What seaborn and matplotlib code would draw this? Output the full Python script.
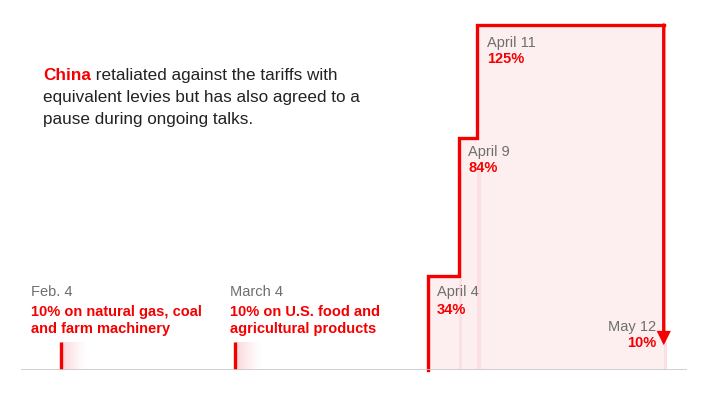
import matplotlib
matplotlib.use("Agg")
import matplotlib.pyplot as plt
import matplotlib.dates as mdates
import numpy as np
import pandas as pd
import seaborn as sns

# ---- data ----
step_dates = ["2025-04-04", "2025-04-04", "2025-04-09", "2025-04-12", "2025-05-12"]
step_values = [0, 34, 84, 125, 125]
final_date = "2025-05-12"
final_value = 10
early_dates = ["2025-02-04", "2025-03-04"]
early_values = [10, 10]
early_labels = ["Feb. 4", "March 4"]
early_notes = ["10% on natural gas, coal\nand farm machinery",
               "10% on U.S. food and\nagricultural products"]
step_labels = ["April 4", "April 9", "April 11", "May 12"]
step_notes = ["34%", "84%", "125%", "10%"]

RED = "#f40000"
PINK = "#fdeff0"
GRAY = "#6e6e6e"
DARK = "#222222"

sns.set_theme(style="white")
plt.rcParams["font.family"] = ["Liberation Sans", "DejaVu Sans"]

W, H = 706, 402
fig = plt.figure(figsize=(W / 100, H / 100), dpi=100)
ax = fig.add_axes([21 / W, 31 / H, 666 / W, 345 / H])

def dn(s):
    return mdates.date2num(pd.Timestamp(s))

feb4 = dn(early_dates[0])
ppd = 6.214
ax.set_xlim(feb4 - 40 / ppd, feb4 + (687 - 61) / ppd)
ax.set_ylim(0, 125)

sx = np.array([dn(d) for d in step_dates])
sy = np.array(step_values, dtype=float)

# pink area under the step
ax.fill_between(sx, sy, step="post", color=PINK, lw=0, zorder=1)

# faint stripes at each step start
for d, top in [(step_dates[2], 72), (step_dates[3], 72), (final_date, final_value)]:
    x0 = dn(d)
    ax.fill_between([x0, x0 + 0.6], [top, top], color="#fbdfe2", lw=0, zorder=1.5)

# early gradient blocks and ticks
for d, v in zip(early_dates, early_values):
    x0 = dn(d)
    n = 20
    span = 4.2
    for i in range(n):
        a = (1 - i / n) ** 1.3
        ax.fill_between([x0 + span * i / n, x0 + span * (i + 1) / n], [v, v],
                        color="#fbd6da", alpha=a, lw=0, zorder=1)
    ax.plot([x0, x0], [0, v], color=RED, lw=2.4, solid_capstyle="butt", zorder=3)

# step line
df = pd.DataFrame({"date": sx, "value": sy})
sns.lineplot(data=df, x="date", y="value", ax=ax, estimator=None, sort=False,
             drawstyle="steps-post", color=RED, lw=2.4, zorder=4)
ln = ax.lines[-1]
ln.set_solid_joinstyle("miter")
ln.set_solid_capstyle("projecting")
ln.set_clip_on(False)

# arrow down to final value
xf = dn(final_date)
ax.annotate("", xy=(xf, final_value - 1.0), xytext=(xf, 125),
            arrowprops=dict(arrowstyle="-|>,head_length=0.8,head_width=0.4",
                            color=RED, lw=2.4, shrinkA=0, shrinkB=0,
                            mutation_scale=8, joinstyle="miter"),
            annotation_clip=False, zorder=4)

# baseline
ax.axhline(0, color="#c8c8c8", lw=1.2, zorder=5)

for s in ax.spines.values():
    s.set_visible(False)
ax.set_xticks([])
ax.set_yticks([])
ax.set_xlabel("")
ax.set_ylabel("")
ax.patch.set_alpha(0)

def ft(x, y, s, **kw):
    return fig.text(x / W, 1 - y / H, s, va="baseline", **kw)

# intro text
fs = 12.3
t1 = ft(43, 80, "China", color=RED, fontsize=fs, fontweight="bold")
ax.annotate(" retaliated against the tariffs with", xy=(1, 0), xycoords=t1,
            va="bottom", ha="left", fontsize=fs, color=DARK)
ft(43, 102, "equivalent levies but has also agreed to a", fontsize=fs, color=DARK)
ft(43, 124, "pause during ongoing talks.", fontsize=fs, color=DARK)

# early labels
for x, lab, note in zip([31, 230], early_labels, early_notes):
    ft(x, 296, lab, fontsize=10.5, color=GRAY)
    l1, l2 = note.split("\n")
    ft(x, 316, l1, fontsize=10.5, color=RED, fontweight="bold")
    ft(x, 333, l2, fontsize=10.5, color=RED, fontweight="bold")

# step labels
pos = [(437, 296, 314, "left"), (468, 156, 172, "left"),
       (487, 47, 63, "left"), (656, 331, 347, "right")]
for (x, y1, y2, ha), lab, note in zip(pos, step_labels, step_notes):
    ft(x, y1, lab, fontsize=10.5, color=GRAY, ha=ha)
    ft(x, y2, note, fontsize=10.5, color=RED, fontweight="bold", ha=ha)

fig.savefig("out.png", dpi=100)
